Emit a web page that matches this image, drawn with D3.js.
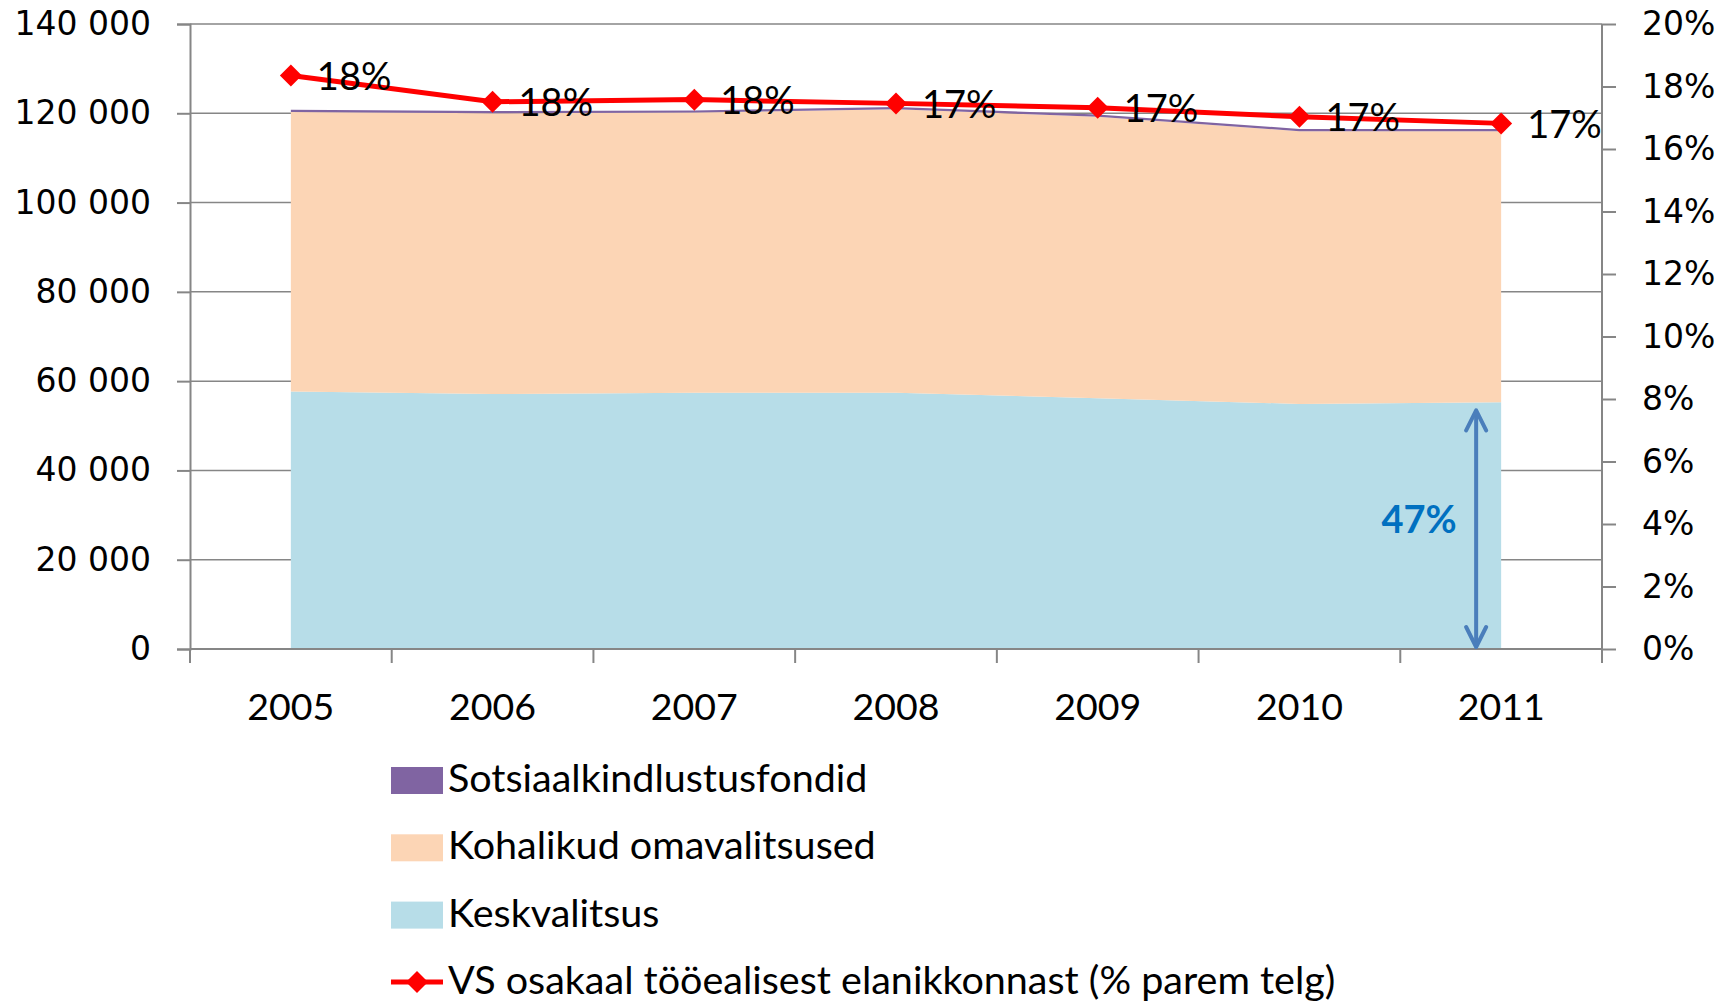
<!DOCTYPE html>
<html>
<head>
<meta charset="utf-8">
<script src="https://cdn.jsdelivr.net/npm/d3@7"></script>
<style>
  body { margin: 0; background: #fff; }
  svg { display: block; }
</style>
</head>
<body>
<div id="chart"></div>
<script>
// values
var years = ["2005", "2006", "2007", "2008", "2009", "2010", "2011"];
var keskvalitsus = [57700, 57100, 57400, 57400, 56150, 54900, 55250];
var kohalikud = [62600, 62900, 62750, 63500, 63100, 61100, 60750];
var sotsiaal = [500, 500, 500, 500, 500, 500, 500];
var vsOsakaal = [0.1835, 0.1751, 0.1758, 0.1746, 0.1732, 0.1703, 0.1682];
var vsLabels = ["18%", "18%", "18%", "17%", "17%", "17%", "17%"];
var leftTicks = [0, 20000, 40000, 60000, 80000, 100000, 120000, 140000];
var rightTicks = [0, 0.02, 0.04, 0.06, 0.08, 0.10, 0.12, 0.14, 0.16, 0.18, 0.20];
var seriesNames = ["Keskvalitsus", "Kohalikud omavalitsused", "Sotsiaalkindlustusfondid"];
var lineName = "VS osakaal tööealisest elanikkonnast (% parem telg)";
var shareLabel = "47%";

function main() {
    var W = 1733, H = 1003;
    var margin = { top: 24, right: 131, bottom: 354, left: 190 },
        width = W - margin.left - margin.right,
        height = H - margin.top - margin.bottom;

    var colors = {
        "Keskvalitsus": "#b7dde8",
        "Kohalikud omavalitsused": "#fcd5b5",
        "Sotsiaalkindlustusfondid": "#8064a2"
    };
    var grid = "#868686";

    var svg = d3.select("#chart")
        .append("svg")
        .attr("width", W)
        .attr("height", H);

    var g = svg.append("g")
        .attr("transform", "translate(" + margin.left + "," + margin.top + ")");

    var x = d3.scaleBand()
        .domain(years)
        .range([0, width])
        .padding(0)
    var cx = d => x(d) + x.bandwidth() / 2

    var y = d3.scaleLinear()
        .domain([0, 140000])
        .range([height, 0])

    var y2 = d3.scaleLinear()
        .domain([0, 0.2])
        .range([height, 0])

    // gridlines
    g.selectAll(".grid")
        .data(leftTicks.slice(1))
        .enter()
        .append("line")
        .attr("x1", 0).attr("x2", width)
        .attr("y1", d => y(d)).attr("y2", d => y(d))
        .style("stroke", grid)
        .style("stroke-width", 1.5)

    // stacked areas
    var table = years.map((yr, i) => ({
        year: yr,
        "Keskvalitsus": keskvalitsus[i],
        "Kohalikud omavalitsused": kohalikud[i],
        "Sotsiaalkindlustusfondid": sotsiaal[i]
    }))
    var stacked = d3.stack().keys(seriesNames)(table)

    g.selectAll(".layer")
        .data(stacked)
        .enter()
        .append("path")
        .style("fill", d => colors[d.key])
        .attr("d", d3.area()
            .x(d => cx(d.data.year))
            .y0(d => y(d[0]))
            .y1(d => y(d[1]))
        )

    // axes
    var yAxis = g.append("g")
        .call(d3.axisLeft(y).tickValues(leftTicks).tickSize(13).tickPadding(26)
            .tickFormat(d => d3.format(",")(d).replace(/,/g, " ")))
    var y2Axis = g.append("g")
        .attr("transform", "translate(" + width + ",0)")
        .call(d3.axisRight(y2).tickValues(rightTicks).tickSize(14).tickPadding(26)
            .tickFormat(d3.format(".0%")))
    var xAxis = g.append("g")
        .attr("transform", "translate(0," + height + ")")
        .call(d3.axisBottom(x).tickSize(0).tickPadding(44))

    ;[yAxis, y2Axis, xAxis].forEach(a => {
        a.select(".domain").style("stroke", grid).style("stroke-width", 2)
        a.selectAll(".tick line").style("stroke", grid).style("stroke-width", 2)
        a.selectAll("text").style("fill", "#000")
    })
    yAxis.selectAll("text").style("font-family", "DejaVu Sans").style("font-size", "33px")
    y2Axis.selectAll("text").style("font-family", "DejaVu Sans").style("font-size", "33px")
    xAxis.selectAll("text").style("font-family", "Lato").style("font-size", "37.5px")
    xAxis.select(".domain").attr("d", "M0,0H" + width)
    y2Axis.select(".domain").attr("d", "M0,0V" + (height + 14))

    // category boundary ticks
    g.append("g")
        .selectAll("line")
        .data(years.map(d => x(d)).concat([width]))
        .enter()
        .append("line")
        .attr("x1", d => d).attr("x2", d => d)
        .attr("y1", height).attr("y2", height + 14)
        .style("stroke", grid)
        .style("stroke-width", 2)

    // red line on the right axis
    var diamond = "M0,-11L11,0L0,11L-11,0Z"
    g.append("path")
        .datum(vsOsakaal)
        .style("fill", "none")
        .style("stroke", "#ff0000")
        .style("stroke-width", 5)
        .attr("d", d3.line()
            .x((d, i) => cx(years[i]))
            .y(d => y2(d))
        )
    g.selectAll(".marker")
        .data(vsOsakaal)
        .enter()
        .append("path")
        .attr("d", diamond)
        .attr("transform", (d, i) => "translate(" + cx(years[i]) + "," + y2(d) + ")")
        .style("fill", "#ff0000")

    g.selectAll(".dlabel")
        .data(vsOsakaal)
        .enter()
        .append("text")
        .attr("x", (d, i) => cx(years[i]) + 26)
        .attr("y", d => y2(d) + 5)
        .attr("dominant-baseline", "middle")
        .style("font-family", "Lato")
        .style("font-size", "38px")
        .text((d, i) => vsLabels[i])

    // arrow annotation for central government share
    var last = years[years.length - 1]
    var ax = cx(last) - 25
    var yTop = y(keskvalitsus[keskvalitsus.length - 1]) + 8
    var yBot = y(0) - 2
    var blue = "#4a7ebb"
    g.append("line")
        .attr("x1", ax).attr("x2", ax)
        .attr("y1", yTop + 2).attr("y2", yBot - 2)
        .style("stroke", blue).style("stroke-width", 4)
    g.append("path")
        .attr("d", "M" + (ax - 10) + "," + (yTop + 20) + "L" + ax + "," + yTop + "L" + (ax + 10) + "," + (yTop + 20)
            + "M" + (ax - 10) + "," + (yBot - 20) + "L" + ax + "," + yBot + "L" + (ax + 10) + "," + (yBot - 20))
        .style("fill", "none")
        .style("stroke", blue)
        .style("stroke-width", 4)
        .style("stroke-linecap", "round")
        .style("stroke-linejoin", "round")
    g.append("text")
        .attr("x", ax - 57)
        .attr("y", (yTop + yBot) / 2 - 5)
        .attr("text-anchor", "middle")
        .attr("dominant-baseline", "middle")
        .style("font-family", "Lato")
        .style("font-weight", "bold")
        .style("font-size", "38px")
        .style("fill", "#0070c0")
        .text(shareLabel)

    // legend
    var legendItems = [
        { name: "Sotsiaalkindlustusfondid", type: "box" },
        { name: "Kohalikud omavalitsused", type: "box" },
        { name: "Keskvalitsus", type: "box" },
        { name: lineName, type: "line" }
    ]
    var legend = svg.append("g")
        .attr("transform", "translate(391,780)")
    var rows = legend.selectAll("g")
        .data(legendItems)
        .enter()
        .append("g")
        .attr("transform", (d, i) => "translate(0," + (i * 67.3) + ")")
    rows.filter(d => d.type == "box")
        .append("rect")
        .attr("x", 0).attr("y", -13)
        .attr("width", 52).attr("height", 27)
        .style("fill", d => colors[d.name])
    var lineRow = rows.filter(d => d.type == "line")
    lineRow.append("line")
        .attr("x1", 0).attr("x2", 52).attr("y1", 0).attr("y2", 0)
        .style("stroke", "#ff0000").style("stroke-width", 5)
    lineRow.append("path")
        .attr("d", diamond)
        .attr("transform", "translate(26,0)")
        .style("fill", "#ff0000")
    rows.append("text")
        .attr("x", 57)
        .attr("y", 2)
        .attr("dominant-baseline", "middle")
        .style("font-family", "Lato")
        .style("font-size", "39.5px")
        .text(d => d.name)
}

main();
</script>
</body>
</html>
